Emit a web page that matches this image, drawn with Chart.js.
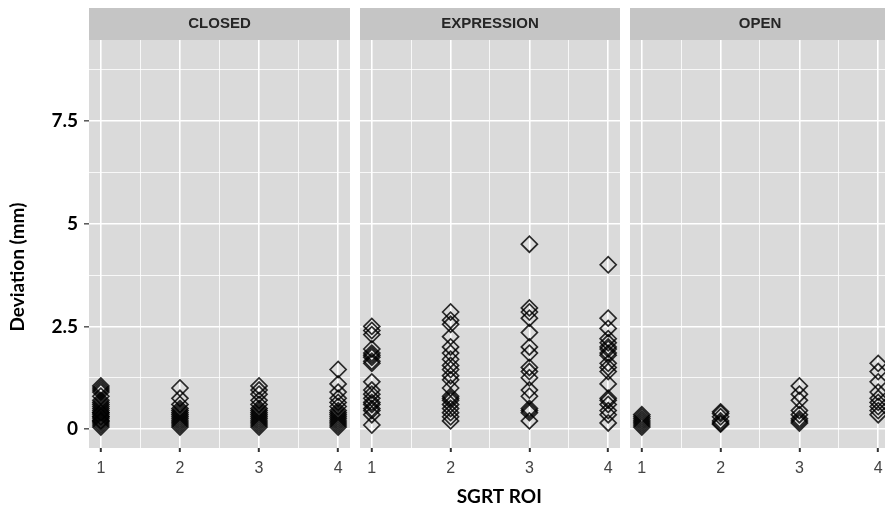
<!DOCTYPE html>
<html>
<head>
<meta charset="utf-8">
<title>Deviation by SGRT ROI</title>
<script src="https://cdn.jsdelivr.net/npm/chart.js@4.4.0/dist/chart.umd.min.js"></script>
<style>
  html, body { margin: 0; padding: 0; background: #fff; overflow: hidden; }
  #wrap { position: relative; width: 885px; height: 511px; overflow: hidden; }
  .panel { position: absolute; top: 0; }
</style>
</head>
<body>
<div id="wrap">
  <canvas id="closedChart" class="panel" style="left:0" width="350" height="511"></canvas>
  <canvas id="expressionChart" class="panel" style="left:360px" width="260" height="511"></canvas>
  <canvas id="openChart" class="panel" style="left:630px" width="260" height="511"></canvas>
</div>
<script>
// ---- data (mm) ----
const roiLabels = [1, 2, 3, 4];
const facetNames = ['CLOSED', 'EXPRESSION', 'OPEN'];

const closedDeviation = [
  [0.05, 0.1, 0.15, 0.2, 0.25, 0.3, 0.35, 0.4, 0.45, 0.5, 0.55, 0.6, 0.65, 0.7, 0.8, 0.9, 0.95, 1.0, 1.05, 0.3, 0.4, 0.2],
  [1.0, 0.75, 0.6, 0.5, 0.45, 0.4, 0.35, 0.3, 0.25, 0.2, 0.15, 0.1, 0.05],
  [1.05, 0.95, 0.85, 0.7, 0.6, 0.5, 0.45, 0.4, 0.35, 0.3, 0.25, 0.2, 0.15, 0.1, 0.05],
  [1.45, 1.1, 0.9, 0.75, 0.65, 0.55, 0.45, 0.4, 0.35, 0.3, 0.25, 0.2, 0.15, 0.1, 0.05]
];
const expressionDeviation = [
  [2.5, 2.4, 2.3, 1.95, 1.85, 1.8, 1.75, 1.65, 1.6, 1.15, 0.95, 0.85, 0.75, 0.65, 0.6, 0.5, 0.45, 0.35, 0.1],
  [2.85, 2.65, 2.55, 2.25, 2.0, 1.85, 1.7, 1.55, 1.45, 1.3, 1.2, 1.0, 0.8, 0.75, 0.7, 0.6, 0.5, 0.4, 0.3, 0.2],
  [4.5, 2.95, 2.85, 2.7, 2.35, 2.0, 1.85, 1.5, 1.4, 1.25, 0.95, 0.8, 0.5, 0.45, 0.4, 0.2],
  [4.0, 2.7, 2.45, 2.2, 2.1, 2.0, 1.95, 1.85, 1.8, 1.6, 1.5, 1.4, 1.1, 0.75, 0.7, 0.6, 0.45, 0.35, 0.15]
];
const openDeviation = [
  [0.35, 0.3, 0.25, 0.2, 0.15, 0.1, 0.05],
  [0.42, 0.38, 0.3, 0.2, 0.15, 0.12],
  [1.05, 0.85, 0.7, 0.45, 0.35, 0.25, 0.2, 0.15],
  [1.6, 1.4, 1.15, 0.9, 0.75, 0.65, 0.55, 0.45, 0.35]
];

const yMajorTicks = [0, 2.5, 5, 7.5];
const yMinorTicks = [1.25, 3.75, 6.25, 8.75];
const xMinorTicks = [1.5, 2.5, 3.5];

/* =====================
   Panel background + facet strip
   ===================== */
const facetStrip = {
  id: 'facetStrip',
  beforeDraw(chart) {
    const { ctx, chartArea: a } = chart;
    ctx.save();
    ctx.fillStyle = '#c5c5c5';
    ctx.fillRect(a.left, 8, a.right - a.left, a.top - 8);
    ctx.fillStyle = '#dadada';
    ctx.fillRect(a.left, a.top, a.right - a.left, a.bottom - a.top);
    ctx.restore();
  }
};

function toPoints(columns) {
  const pts = [];
  columns.forEach((col, i) => {
    col.forEach(v => pts.push({ x: roiLabels[i], y: v }));
  });
  return pts;
}

function buildOptions(name, index) {
  const first = index === 0;
  const middle = index === 1;
  const xGrid = roiLabels.concat(xMinorTicks).sort((a, b) => a - b);
  const yGrid = yMajorTicks.concat(yMinorTicks).sort((a, b) => a - b);
  return {
    responsive: false,
    animation: false,
    layout: { padding: 0, autoPadding: false },
    plugins: {
      legend: { display: false },
      tooltip: { enabled: false },
      title: {
        display: true,
        text: name,
        fullSize: false,
        color: '#262626',
        font: { family: "'Liberation Sans', Arial, sans-serif", size: 15, weight: 'bold' },
        padding: { top: 15, bottom: 7 }
      }
    },
    scales: {
      x: {
        type: 'linear',
        min: 0.85,
        max: 4.15,
        afterBuildTicks: s => { s.ticks = xGrid.map(v => ({ value: v })); },
        afterFit: s => { s.height = 63; },
        border: { display: false },
        grid: {
          color: '#ffffff',
          lineWidth: c => roiLabels.includes(c.tick.value) ? 1.6 : 0.8,
          drawTicks: true,
          tickLength: 4,
          tickWidth: 2,
          tickColor: c => roiLabels.includes(c.tick.value) ? '#333' : 'rgba(0,0,0,0)'
        },
        ticks: {
          autoSkip: false,
          maxRotation: 0,
          padding: 7,
          color: '#444',
          font: { family: "'Liberation Sans', Arial, sans-serif", size: 16 },
          callback: v => roiLabels.includes(v) ? String(v) : ''
        },
        title: {
          display: middle,
          text: '    SGRT ROI',
          color: '#000',
          font: { family: 'Lato, sans-serif', size: 19, weight: 'bold' },
          padding: { top: 0, bottom: 3 }
        }
      },
      y: {
        type: 'linear',
        min: -0.46,
        max: 9.47,
        afterBuildTicks: s => { s.ticks = yGrid.map(v => ({ value: v })); },
        afterFit: s => { s.width = first ? 89 : 0; },
        border: { display: false },
        grid: {
          color: '#ffffff',
          lineWidth: c => yMajorTicks.includes(c.tick.value) ? 1.6 : 0.8,
          drawTicks: first,
          tickLength: 5,
          tickWidth: 1.5,
          tickColor: c => yMajorTicks.includes(c.tick.value) ? '#555' : 'rgba(0,0,0,0)'
        },
        ticks: {
          display: first,
          autoSkip: false,
          padding: 6,
          color: '#000',
          font: { family: 'Lato, sans-serif', size: 19, weight: 'bold' },
          callback: v => yMajorTicks.includes(v) ? String(v) : ''
        },
        title: {
          display: first,
          text: 'Deviation (mm)          ',
          color: '#000',
          font: { family: 'Lato, sans-serif', size: 19, weight: 'bold' },
          padding: { top: 6, bottom: 0 }
        }
      }
    }
  };
}

/* =====================
   One chart per facet
   ===================== */
const facetData = [closedDeviation, expressionDeviation, openDeviation];
const canvasIds = ['closedChart', 'expressionChart', 'openChart'];

facetNames.forEach((name, i) => {
  new Chart(document.getElementById(canvasIds[i]), {
    type: 'scatter',
    data: {
      datasets: [{
        label: name,
        data: toPoints(facetData[i]),
        pointStyle: 'rectRot',
        pointRadius: 8,
        pointHoverRadius: 8,
        borderWidth: 1.7,
        borderColor: 'rgba(0,0,0,0.82)',
        backgroundColor: 'rgba(0,0,0,0)',
        clip: false
      }]
    },
    options: buildOptions(name, i),
    plugins: [facetStrip]
  });
});
</script>
</body>
</html>
